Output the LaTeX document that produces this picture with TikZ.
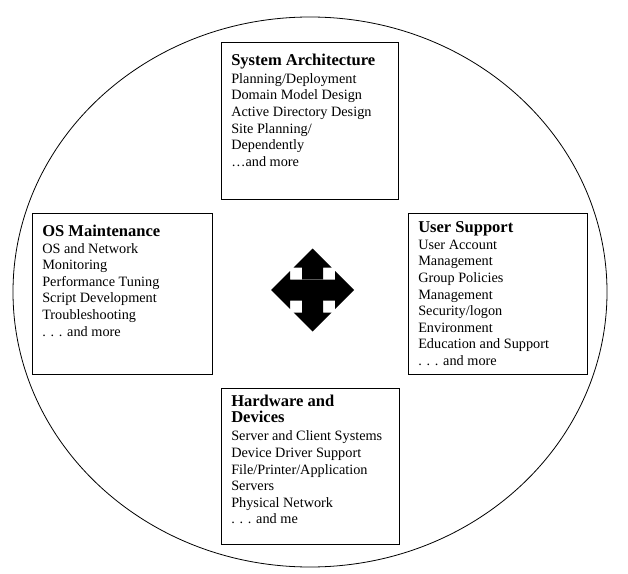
\documentclass[tikz,border=0pt]{standalone}
\usepackage{fontspec}
\setmainfont{Liberation Serif}
\usepackage{tikz}
\usetikzlibrary{shapes.geometric}

\tikzset{
    catbox/.style={draw, line width=0.8pt, anchor=north west, inner sep=0},
    boxtext/.style={anchor=north west, inner sep=0, align=left, font=\fontsize{10.7}{12.45}\selectfont}
}
\newcommand{\cattitle}[1]{{\bfseries\fontsize{12.4}{12.45}\selectfont #1}}

\begin{document}
\begin{tikzpicture}[x=0.75pt, y=-0.75pt]
    \useasboundingbox (0,0) rectangle (628,574);

    % outer ring
    \node[draw, ellipse, line width=0.6pt, minimum width=445.5pt, minimum height=412.5pt] (ring) at (310,292) {};

    % the four boxes
    \node[catbox, minimum width=132.75pt, minimum height=117.75pt] (arch) at (221,42) {};
    \node[catbox, minimum width=135pt, minimum height=120.75pt] (maint) at (32,213) {};
    \node[catbox, minimum width=134.25pt, minimum height=120.75pt] (users) at (408,213) {};
    \node[catbox, minimum width=133.5pt, minimum height=117pt] (hw) at (221,388) {};

    \node[boxtext] (archtxt) at ([shift={(10,11.6)}]arch.north west)
        {\cattitle{System Architecture}\\[1pt]
         Planning/Deployment\\ Domain Model Design\\ Active Directory Design\\
         Site Planning/\\ Dependently\\ …and more};
    \node[boxtext] (mainttxt) at ([shift={(10,11.8)}]maint.north west)
        {\cattitle{OS Maintenance}\\
         OS and Network\\ Monitoring\\ Performance Tuning\\
         Script Development\\ Troubleshooting\\ . . . and more};
    \node[boxtext] (userstxt) at ([shift={(10,8.4)}]users.north west)
        {\cattitle{User Support}\\
         User Account\\ Management\\ Group Policies\\ Management\\
         Security/logon\\ Environment\\ Education and Support\\ . . . and more};
    \node[boxtext] (hwtxt) at ([shift={(10,6.4)}]hw.north west)
        {\cattitle{Hardware and}\\ \cattitle{Devices}\\[1.2pt]
         Server and Client Systems\\ Device Driver Support\\
         File/Printer/Application\\ Servers\\ Physical Network\\ . . . and me};

    % four-way arrow in the middle
    \coordinate (hub) at (312.5,290);
    \fill ([shift={(-10.5,-10.5)}]hub) rectangle ([shift={(10.5,10.5)}]hub);
    \foreach \ang in {0,90,180,270}
        \fill[rotate around={\ang:(hub)}]
        ([shift={(-10.5,-10.5)}]hub) -- ++(0,-12) -- ++(-8.5,0) -- ([shift={(0,-41.5)}]hub)
        -- ([shift={(19,-22.5)}]hub) -- ++(-8.5,0) -- ++(0,12) -- cycle;

\end{tikzpicture}
\end{document}
